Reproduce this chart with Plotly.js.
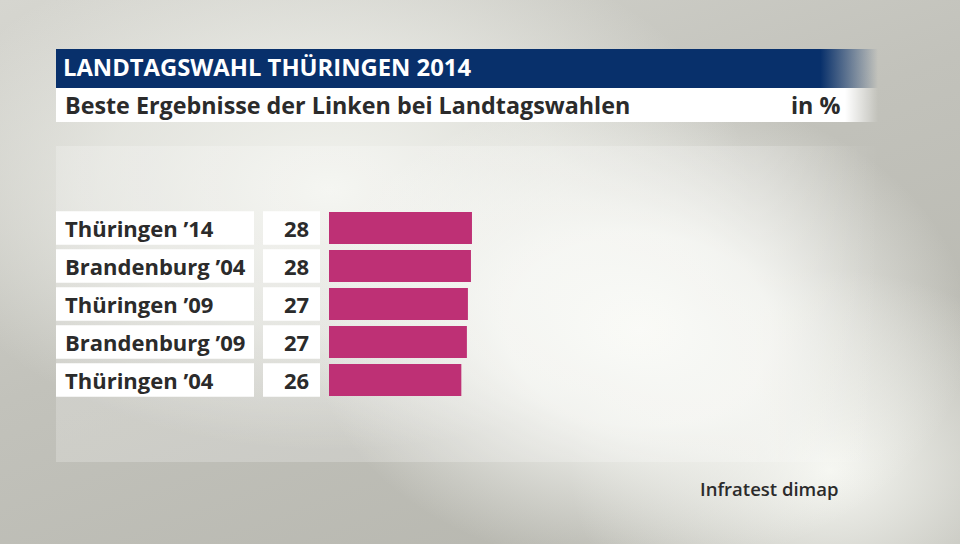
<!DOCTYPE html>
<html><head><meta charset="utf-8">
<script src="https://cdn.plot.ly/plotly-3.0.1.min.js"></script>
<style>
html,body{margin:0;padding:0;}
body{width:960px;height:544px;overflow:hidden;position:relative;
background:
 radial-gradient(ellipse 330px 240px at 640px 330px, rgba(248,249,245,1) 0%, rgba(248,249,245,0.85) 40%, rgba(248,249,245,0) 100%),
 radial-gradient(ellipse 420px 260px at 330px 190px, rgba(242,243,238,1) 0%, rgba(242,243,238,0.6) 55%, rgba(242,243,238,0) 100%),
 radial-gradient(ellipse 260px 200px at 830px 470px, rgba(245,246,241,1) 0%, rgba(245,246,241,0) 100%),
 linear-gradient(160deg, #d6d6d0 0%, #c2c2bb 45%, #b4b4ac 100%);}
.deco{position:absolute;}
#chart{position:absolute;left:0;top:0;width:960px;height:544px;}
</style></head><body>
<div class="deco" style="left:56px;top:146px;width:824px;height:316px;background:linear-gradient(to right, rgba(255,255,255,0.22) 0%, rgba(255,255,255,0.22) 85%, rgba(255,255,255,0) 100%)"></div>
<div class="deco" style="left:56px;top:49px;width:822px;height:39px;background:linear-gradient(to right,#08306b 0%, #08306b 93%, rgba(8,48,107,0) 100%)"></div>
<div class="deco" style="left:56px;top:88px;width:822px;height:34px;background:linear-gradient(to right,#ffffff 0%, #ffffff 96%, rgba(255,255,255,0) 100%)"></div>
<div id="chart"></div>
<script>
// ---- data ----
const categories = ["Thüringen ’14", "Brandenburg ’04", "Thüringen ’09", "Brandenburg ’09", "Thüringen ’04"];
const values = [28.2, 28.0, 27.4, 27.2, 26.1];
const valueLabels = ["28", "28", "27", "27", "26"];
const titleText = "LANDTAGSWAHL THÜRINGEN 2014";
const subtitleText = "Beste Ergebnisse der Linken bei Landtagswahlen";
const unitText = "in %";
const sourceText = "Infratest dimap";

// ---- layout geometry ----
const W = 960, H = 544;
const M = {l: 329, r: 124, t: 209, b: 145};
const plotW = W - M.l - M.r, plotH = H - M.t - M.b;
const px2x = px => (px - M.l) / plotW;
const py2y = py => (H - M.b - py) / plotH;

const FONT = "Open Sans";
const TXT = "#2b2b2b";

const shapes = [];
const annotations = [];
categories.forEach((c, i) => {
  shapes.push({type: 'rect', xref: 'paper', yref: 'y', x0: px2x(56), x1: px2x(254), y0: i - 0.44, y1: i + 0.44,
    fillcolor: '#ffffff', line: {width: 0}, layer: 'below'});
  shapes.push({type: 'rect', xref: 'paper', yref: 'y', x0: px2x(263), x1: px2x(320), y0: i - 0.44, y1: i + 0.44,
    fillcolor: '#ffffff', line: {width: 0}, layer: 'below'});
  annotations.push({xref: 'paper', yref: 'y', x: px2x(63), y: c, text: c, showarrow: false,
    xanchor: 'left', yanchor: 'middle', font: {family: FONT, size: 22, color: TXT, weight: 700}});
  annotations.push({xref: 'paper', yref: 'y', x: px2x(311), y: c, text: valueLabels[i], showarrow: false,
    xanchor: 'right', yanchor: 'middle', font: {family: FONT, size: 22, color: TXT, weight: 700}});
});
annotations.push({xref: 'paper', yref: 'paper', x: px2x(63), y: py2y(105), text: subtitleText, showarrow: false,
  xanchor: 'left', yanchor: 'middle', font: {family: FONT, size: 23.3, color: TXT, weight: 700}});
annotations.push({xref: 'paper', yref: 'paper', x: px2x(842), y: py2y(105), text: unitText, showarrow: false,
  xanchor: 'right', yanchor: 'middle', font: {family: FONT, size: 23.3, color: TXT, weight: 700}});
annotations.push({xref: 'paper', yref: 'paper', x: px2x(841), y: py2y(488), text: sourceText, showarrow: false,
  xanchor: 'right', yanchor: 'middle', font: {family: FONT, size: 18.5, color: TXT, weight: 600}});

const trace = {
  type: 'bar', orientation: 'h', x: values, y: categories, width: 0.84,
  marker: {color: '#be3075', line: {width: 0}}, hoverinfo: 'none'
};

const layout = {
  width: W, height: H, margin: M,
  paper_bgcolor: 'rgba(0,0,0,0)', plot_bgcolor: 'rgba(0,0,0,0)',
  title: {text: titleText, xref: 'container', yref: 'container', x: 63 / W, xanchor: 'left',
    y: 1 - 68 / H, yanchor: 'middle', font: {family: FONT, size: 23.8, color: '#ffffff', weight: 700}},
  xaxis: {range: [0, 100], visible: false, fixedrange: true},
  yaxis: {type: 'category', categoryorder: 'array', categoryarray: categories, range: [4.5, -0.5],
    visible: false, fixedrange: true},
  showlegend: false, shapes: shapes, annotations: annotations
};
Plotly.newPlot('chart', [trace], layout, {staticPlot: true, displayModeBar: false});
</script>
</body></html>
